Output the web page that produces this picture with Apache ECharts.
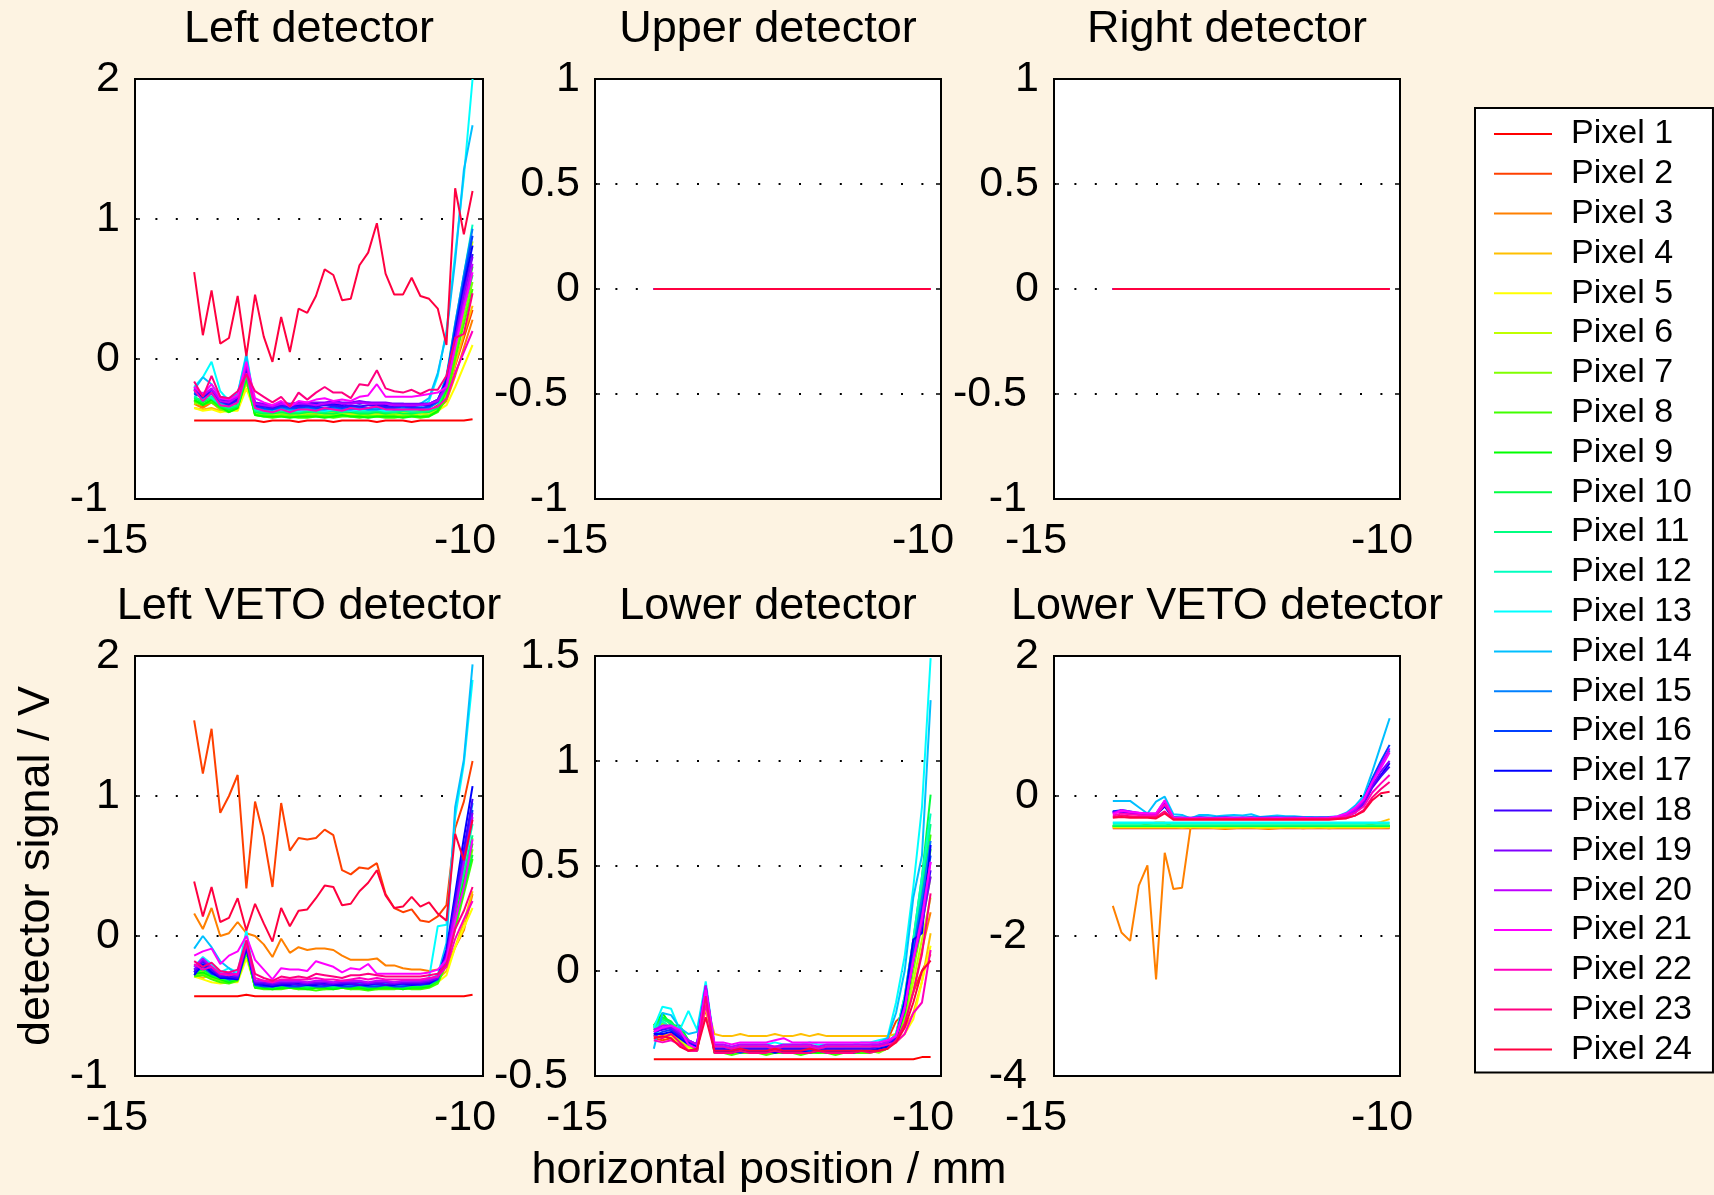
<!DOCTYPE html>
<html>
<head>
<meta charset="utf-8">
<title>Detector signals</title>
<script src="https://cdn.jsdelivr.net/npm/echarts@6/dist/echarts.min.js"></script>
<style>
html, body { margin: 0; padding: 0; background: #fdf3e2; }
#container-main { width: 1714px; height: 1195px; }
</style>
</head>
<body>
<div id="container-main"></div>
<script>
// horizontal positions (mm), same for every panel
var xPos = [-14.15,-14.025,-13.9,-13.775,-13.65,-13.525,-13.4,-13.275,-13.15,-13.025,-12.9,-12.775,-12.65,-12.525,-12.4,-12.275,-12.15,-12.025,-11.9,-11.775,-11.65,-11.525,-11.4,-11.275,-11.15,-11.025,-10.9,-10.775,-10.65,-10.525,-10.4,-10.275,-10.15];

var pixelNames = ['Pixel 1','Pixel 2','Pixel 3','Pixel 4','Pixel 5','Pixel 6','Pixel 7','Pixel 8','Pixel 9','Pixel 10','Pixel 11','Pixel 12',
  'Pixel 13','Pixel 14','Pixel 15','Pixel 16','Pixel 17','Pixel 18','Pixel 19','Pixel 20','Pixel 21','Pixel 22','Pixel 23','Pixel 24'];

var panelTitles = ['Left detector','Upper detector','Right detector','Left VETO detector','Lower detector','Lower VETO detector'];

// upper + right detector: every pixel reads 0
var flatZero = [0,0,0,0,0,0, 0, 0,0,0,0,0,0,0, 0,0,0,0,0,0,0, 0,0,0,0,0,0,0, 0,0,0,0,0];

var leftDet = [
  [-0.44,-0.44,-0.44,-0.44,-0.44,-0.44, -0.44, -0.44,-0.45,-0.44,-0.44,-0.44,-0.45,-0.44, -0.44,-0.44,-0.45,-0.44,-0.44,-0.44,-0.44, -0.45,-0.44,-0.44,-0.44,-0.45,-0.44,-0.44, -0.44,-0.44,-0.44,-0.44,-0.43],
  [-0.30,-0.34,-0.29,-0.35,-0.33,-0.32, -0.16, -0.36,-0.37,-0.38,-0.37,-0.36,-0.37,-0.38, -0.37,-0.36,-0.37,-0.37,-0.36,-0.37,-0.38, -0.37,-0.37,-0.36,-0.37,-0.38,-0.37,-0.37, -0.33,-0.27,-0.05,0.15,0.35],
  [-0.32,-0.35,-0.31,-0.36,-0.35,-0.34, -0.12, -0.38,-0.38,-0.39,-0.38,-0.38,-0.37,-0.38, -0.39,-0.38,-0.38,-0.37,-0.38,-0.39,-0.38, -0.38,-0.38,-0.37,-0.38,-0.38,-0.39,-0.38, -0.36,-0.30,-0.12,0.08,0.28],
  [-0.35,-0.36,-0.35,-0.37,-0.37,-0.36, -0.17, -0.38,-0.39,-0.39,-0.38,-0.39,-0.39,-0.38, -0.38,-0.39,-0.39,-0.38,-0.39,-0.38,-0.39, -0.39,-0.38,-0.38,-0.39,-0.39,-0.38,-0.38, -0.35,-0.26,-0.04,0.18,0.38],
  [-0.35,-0.37,-0.36,-0.38,-0.37,-0.37, -0.21, -0.38,-0.38,-0.39,-0.38,-0.38,-0.39,-0.38, -0.38,-0.38,-0.39,-0.38,-0.38,-0.38,-0.39, -0.38,-0.38,-0.39,-0.38,-0.38,-0.38,-0.38, -0.37,-0.33,-0.20,-0.05,0.10],
  [-0.32,-0.30,-0.31,-0.35,-0.37,-0.34, -0.14, -0.39,-0.40,-0.40,-0.39,-0.40,-0.40,-0.39, -0.40,-0.40,-0.40,-0.39,-0.40,-0.40,-0.39, -0.40,-0.40,-0.39,-0.40,-0.40,-0.39,-0.40, -0.35,-0.18,0.18,0.52,0.84],
  [-0.31,-0.33,-0.30,-0.36,-0.38,-0.35, -0.15, -0.40,-0.40,-0.41,-0.40,-0.40,-0.41,-0.40, -0.40,-0.41,-0.40,-0.40,-0.41,-0.40,-0.40, -0.41,-0.40,-0.40,-0.41,-0.40,-0.41,-0.40, -0.37,-0.25,0.03,0.30,0.55],
  [-0.30,-0.32,-0.31,-0.35,-0.37,-0.34, -0.14, -0.40,-0.41,-0.42,-0.41,-0.41,-0.42,-0.42, -0.41,-0.41,-0.42,-0.41,-0.41,-0.42,-0.41, -0.41,-0.42,-0.42,-0.41,-0.41,-0.42,-0.41, -0.38,-0.28,0.00,0.25,0.50],
  [-0.29,-0.33,-0.29,-0.34,-0.38,-0.35, -0.13, -0.40,-0.41,-0.41,-0.41,-0.42,-0.41,-0.41, -0.41,-0.42,-0.41,-0.40,-0.41,-0.41,-0.42, -0.41,-0.41,-0.41,-0.42,-0.41,-0.41,-0.41, -0.37,-0.22,0.10,0.40,0.66],
  [-0.28,-0.31,-0.28,-0.34,-0.36,-0.34, -0.12, -0.38,-0.39,-0.39,-0.38,-0.39,-0.39,-0.38, -0.38,-0.39,-0.39,-0.38,-0.38,-0.39,-0.39, -0.38,-0.39,-0.38,-0.39,-0.39,-0.38,-0.38, -0.35,-0.20,0.10,0.36,0.60],
  [-0.27,-0.30,-0.27,-0.33,-0.35,-0.33, -0.10, -0.37,-0.38,-0.38,-0.37,-0.38,-0.38,-0.37, -0.38,-0.38,-0.37,-0.38,-0.37,-0.38,-0.38, -0.37,-0.38,-0.38,-0.37,-0.38,-0.38,-0.37, -0.34,-0.18,0.15,0.45,0.75],
  [-0.27,-0.24,-0.28,-0.32,-0.34,-0.31, -0.08, -0.36,-0.37,-0.37,-0.36,-0.37,-0.37,-0.36, -0.37,-0.37,-0.36,-0.37,-0.36,-0.37,-0.37, -0.36,-0.37,-0.37,-0.36,-0.37,-0.36,-0.35, -0.30,-0.12,0.25,0.60,0.96],
  [-0.20,-0.13,-0.02,-0.23,-0.30,-0.25, 0.04, -0.34,-0.36,-0.37,-0.36,-0.36,-0.37,-0.36, -0.36,-0.37,-0.36,-0.36,-0.37,-0.36,-0.36, -0.36,-0.37,-0.36,-0.36,-0.35,-0.34,-0.30, -0.12,0.20,0.75,1.30,2.00],
  [-0.22,-0.13,-0.18,-0.27,-0.28,-0.25, 0.02, -0.35,-0.36,-0.36,-0.35,-0.36,-0.35,-0.35, -0.36,-0.35,-0.35,-0.36,-0.35,-0.35,-0.36, -0.35,-0.35,-0.36,-0.35,-0.34,-0.32,-0.28, -0.10,0.18,0.70,1.35,1.67],
  [-0.24,-0.28,-0.25,-0.31,-0.33,-0.30, -0.06, -0.35,-0.36,-0.36,-0.35,-0.36,-0.36,-0.35, -0.36,-0.36,-0.35,-0.36,-0.36,-0.35,-0.36, -0.36,-0.35,-0.36,-0.36,-0.35,-0.36,-0.35, -0.31,-0.14,0.25,0.60,0.93],
  [-0.25,-0.27,-0.24,-0.30,-0.33,-0.29, -0.07, -0.34,-0.35,-0.36,-0.34,-0.35,-0.35,-0.34, -0.35,-0.35,-0.34,-0.35,-0.34,-0.34,-0.35, -0.34,-0.35,-0.35,-0.34,-0.35,-0.35,-0.34, -0.30,-0.14,0.22,0.56,0.88],
  [-0.22,-0.27,-0.22,-0.29,-0.31,-0.28, -0.08, -0.32,-0.33,-0.34,-0.32,-0.33,-0.33,-0.32, -0.32,-0.33,-0.32,-0.33,-0.31,-0.32,-0.31, -0.32,-0.33,-0.32,-0.32,-0.33,-0.32,-0.32, -0.29,-0.16,0.18,0.52,0.81],
  [-0.23,-0.26,-0.24,-0.30,-0.32,-0.29, -0.06, -0.33,-0.34,-0.35,-0.33,-0.34,-0.34,-0.33, -0.34,-0.33,-0.33,-0.34,-0.33,-0.34,-0.33, -0.33,-0.34,-0.34,-0.33,-0.34,-0.33,-0.33, -0.30,-0.18,0.15,0.48,0.75],
  [-0.21,-0.25,-0.22,-0.28,-0.30,-0.27, -0.05, -0.31,-0.32,-0.33,-0.31,-0.32,-0.31,-0.31, -0.31,-0.31,-0.30,-0.31,-0.31,-0.30,-0.31, -0.31,-0.31,-0.32,-0.32,-0.32,-0.32,-0.32, -0.29,-0.18,0.14,0.46,0.73],
  [-0.20,-0.26,-0.21,-0.30,-0.31,-0.27, -0.04, -0.32,-0.33,-0.34,-0.32,-0.33,-0.32,-0.32, -0.33,-0.32,-0.31,-0.32,-0.32,-0.31,-0.32, -0.32,-0.32,-0.33,-0.33,-0.33,-0.33,-0.32, -0.30,-0.20,0.10,0.40,0.68],
  [-0.20,-0.25,-0.18,-0.28,-0.29,-0.26, -0.02, -0.28,-0.31,-0.33,-0.30,-0.34,-0.30,-0.31, -0.29,-0.28,-0.30,-0.29,-0.30,-0.27,-0.26, -0.18,-0.27,-0.27,-0.27,-0.27,-0.26,-0.25, -0.24,-0.20,0.08,0.36,0.62],
  [-0.22,-0.30,-0.24,-0.33,-0.34,-0.31, -0.10, -0.35,-0.37,-0.38,-0.36,-0.38,-0.36,-0.36, -0.37,-0.35,-0.36,-0.37,-0.35,-0.36,-0.35, -0.34,-0.36,-0.36,-0.36,-0.36,-0.36,-0.36, -0.34,-0.28,-0.10,0.05,0.20],
  [-0.16,-0.27,-0.12,-0.27,-0.28,-0.23, -0.11, -0.23,-0.27,-0.31,-0.27,-0.34,-0.24,-0.29, -0.24,-0.20,-0.24,-0.24,-0.28,-0.18,-0.19, -0.08,-0.21,-0.23,-0.24,-0.22,-0.25,-0.22, -0.22,-0.12,0.15,0.18,0.47],
  [0.62,0.17,0.49,0.11,0.15,0.45, 0.02, 0.46,0.16,-0.02,0.30,0.05,0.36,0.33, 0.45,0.64,0.60,0.42,0.43,0.67,0.76, 0.97,0.61,0.46,0.46,0.58,0.45,0.43, 0.36,0.10,1.22,0.89,1.20]
];

var vetoLeft = [
  [-0.43,-0.43,-0.43,-0.43,-0.43,-0.43, -0.42, -0.43,-0.43,-0.43,-0.43,-0.43,-0.43,-0.43, -0.43,-0.43,-0.43,-0.43,-0.43,-0.43,-0.43, -0.43,-0.43,-0.43,-0.43,-0.43,-0.43,-0.43, -0.43,-0.43,-0.43,-0.43,-0.42],
  [1.54,1.16,1.48,0.88,1.00,1.15, 0.34, 0.96,0.71,0.35,0.95,0.61,0.70,0.69, 0.70,0.76,0.72,0.47,0.44,0.49,0.48, 0.52,0.30,0.20,0.17,0.19,0.11,0.10, 0.14,0.22,0.77,0.96,1.25],
  [0.16,0.05,0.20,0.00,0.02,0.10, 0.02, 0.00,-0.06,-0.15,-0.02,-0.12,-0.08,-0.10, -0.09,-0.09,-0.10,-0.14,-0.17,-0.17,-0.17, -0.16,-0.21,-0.21,-0.23,-0.24,-0.24,-0.25, -0.24,-0.22,-0.08,0.04,0.30],
  [-0.28,-0.30,-0.27,-0.31,-0.31,-0.30, -0.09, -0.33,-0.34,-0.35,-0.34,-0.33,-0.34,-0.35, -0.34,-0.33,-0.34,-0.34,-0.33,-0.34,-0.34, -0.33,-0.34,-0.33,-0.34,-0.34,-0.33,-0.33, -0.31,-0.25,-0.08,0.10,0.32],
  [-0.29,-0.31,-0.33,-0.34,-0.33,-0.33, -0.16, -0.35,-0.35,-0.36,-0.35,-0.35,-0.35,-0.36, -0.35,-0.35,-0.35,-0.35,-0.36,-0.35,-0.35, -0.35,-0.36,-0.35,-0.35,-0.35,-0.35,-0.34, -0.33,-0.28,-0.08,0.06,0.20],
  [-0.27,-0.25,-0.29,-0.31,-0.32,-0.31, -0.10, -0.36,-0.36,-0.37,-0.36,-0.36,-0.37,-0.36, -0.36,-0.37,-0.36,-0.36,-0.37,-0.36,-0.37, -0.36,-0.36,-0.36,-0.37,-0.36,-0.36,-0.35, -0.30,-0.15,0.15,0.40,0.70],
  [-0.28,-0.27,-0.30,-0.32,-0.33,-0.31, -0.11, -0.37,-0.37,-0.38,-0.37,-0.37,-0.38,-0.37, -0.37,-0.38,-0.37,-0.37,-0.38,-0.37,-0.37, -0.38,-0.37,-0.37,-0.38,-0.37,-0.37,-0.36, -0.33,-0.18,0.10,0.35,0.62],
  [-0.29,-0.28,-0.31,-0.33,-0.34,-0.32, -0.12, -0.37,-0.38,-0.38,-0.38,-0.37,-0.38,-0.38, -0.39,-0.38,-0.38,-0.37,-0.38,-0.38,-0.39, -0.38,-0.38,-0.38,-0.37,-0.38,-0.38,-0.37, -0.34,-0.20,0.05,0.30,0.55],
  [-0.27,-0.26,-0.29,-0.31,-0.33,-0.31, -0.10, -0.37,-0.37,-0.38,-0.37,-0.37,-0.37,-0.38, -0.37,-0.37,-0.38,-0.37,-0.37,-0.37,-0.38, -0.37,-0.37,-0.37,-0.38,-0.37,-0.37,-0.36, -0.32,-0.15,0.12,0.40,0.66],
  [-0.26,-0.24,-0.28,-0.30,-0.32,-0.30, -0.09, -0.36,-0.36,-0.37,-0.36,-0.36,-0.36,-0.37, -0.36,-0.36,-0.37,-0.36,-0.36,-0.36,-0.37, -0.36,-0.36,-0.36,-0.37,-0.36,-0.36,-0.35, -0.32,-0.17,0.10,0.34,0.58],
  [-0.25,-0.22,-0.27,-0.29,-0.31,-0.29, -0.07, -0.35,-0.35,-0.36,-0.35,-0.35,-0.35,-0.36, -0.35,-0.35,-0.36,-0.35,-0.35,-0.35,-0.36, -0.35,-0.35,-0.35,-0.36,-0.35,-0.35,-0.34, -0.30,-0.12,0.18,0.45,0.72],
  [-0.24,-0.20,-0.26,-0.28,-0.30,-0.28, -0.05, -0.34,-0.35,-0.35,-0.34,-0.35,-0.35,-0.34, -0.35,-0.35,-0.34,-0.35,-0.35,-0.34,-0.35, -0.35,-0.34,-0.35,-0.35,-0.34,-0.34,-0.33, -0.30,-0.10,0.22,0.50,0.80],
  [-0.22,-0.15,-0.20,-0.26,-0.23,-0.26, 0.04, -0.33,-0.34,-0.34,-0.33,-0.34,-0.34,-0.33, -0.34,-0.34,-0.33,-0.34,-0.34,-0.33,-0.34, -0.34,-0.33,-0.34,-0.34,-0.33,-0.32,-0.30, 0.07,0.08,0.85,1.23,1.83],
  [-0.09,0.00,-0.08,-0.18,-0.23,-0.28, -0.05, -0.33,-0.34,-0.35,-0.34,-0.34,-0.33,-0.34, -0.35,-0.34,-0.34,-0.33,-0.34,-0.35,-0.34, -0.34,-0.34,-0.33,-0.34,-0.34,-0.33,-0.31, -0.28,-0.05,0.92,1.26,1.94],
  [-0.24,-0.21,-0.25,-0.28,-0.30,-0.29, -0.07, -0.34,-0.34,-0.35,-0.34,-0.34,-0.35,-0.34, -0.34,-0.35,-0.34,-0.34,-0.35,-0.34,-0.34, -0.35,-0.34,-0.34,-0.35,-0.34,-0.34,-0.33, -0.30,-0.12,0.25,0.60,0.95],
  [-0.26,-0.22,-0.27,-0.29,-0.31,-0.30, -0.08, -0.35,-0.36,-0.36,-0.35,-0.36,-0.36,-0.35, -0.36,-0.36,-0.35,-0.36,-0.36,-0.35,-0.36, -0.36,-0.35,-0.36,-0.36,-0.35,-0.35,-0.34, -0.31,-0.14,0.22,0.55,0.90],
  [-0.28,-0.20,-0.26,-0.30,-0.30,-0.31, -0.09, -0.34,-0.35,-0.36,-0.35,-0.35,-0.34,-0.35, -0.35,-0.34,-0.35,-0.35,-0.34,-0.35,-0.35, -0.34,-0.35,-0.35,-0.34,-0.35,-0.34,-0.34, -0.30,-0.10,0.30,0.70,1.07],
  [-0.26,-0.18,-0.24,-0.29,-0.29,-0.30, -0.07, -0.34,-0.34,-0.35,-0.34,-0.34,-0.35,-0.34, -0.34,-0.35,-0.34,-0.34,-0.34,-0.35,-0.34, -0.34,-0.35,-0.34,-0.34,-0.34,-0.34,-0.33, -0.30,-0.12,0.25,0.62,0.98],
  [-0.24,-0.17,-0.23,-0.28,-0.27,-0.29, -0.06, -0.33,-0.33,-0.34,-0.33,-0.33,-0.33,-0.34, -0.33,-0.33,-0.34,-0.33,-0.33,-0.33,-0.34, -0.33,-0.33,-0.34,-0.33,-0.33,-0.33,-0.32, -0.30,-0.15,0.20,0.55,0.88],
  [-0.22,-0.16,-0.22,-0.27,-0.26,-0.28, -0.04, -0.32,-0.32,-0.33,-0.32,-0.32,-0.32,-0.33, -0.32,-0.32,-0.33,-0.32,-0.32,-0.32,-0.33, -0.32,-0.32,-0.33,-0.32,-0.32,-0.32,-0.31, -0.29,-0.16,0.18,0.52,0.85],
  [-0.14,-0.11,-0.09,-0.20,-0.14,-0.11, 0.00, -0.17,-0.24,-0.31,-0.23,-0.24,-0.24,-0.25, -0.18,-0.20,-0.22,-0.26,-0.23,-0.24,-0.20, -0.27,-0.27,-0.27,-0.27,-0.27,-0.27,-0.26, -0.24,-0.17,0.11,0.35,0.69],
  [-0.20,-0.24,-0.22,-0.27,-0.28,-0.27, -0.05, -0.30,-0.32,-0.33,-0.31,-0.31,-0.31,-0.31, -0.30,-0.31,-0.31,-0.32,-0.31,-0.30,-0.31, -0.30,-0.31,-0.31,-0.31,-0.31,-0.31,-0.30, -0.29,-0.22,-0.02,0.12,0.25],
  [-0.18,-0.22,-0.19,-0.25,-0.26,-0.24, -0.03, -0.27,-0.30,-0.32,-0.29,-0.30,-0.29,-0.30, -0.27,-0.28,-0.29,-0.30,-0.28,-0.28,-0.27, -0.28,-0.29,-0.29,-0.29,-0.29,-0.29,-0.28, -0.27,-0.20,0.05,0.18,0.35],
  [0.39,0.14,0.35,0.10,0.13,0.27, 0.04, 0.23,0.09,-0.04,0.20,0.07,0.18,0.19, 0.27,0.36,0.35,0.22,0.23,0.32,0.38, 0.47,0.29,0.20,0.21,0.28,0.21,0.24, 0.16,0.11,0.73,0.54,0.83]
];

var lowerDet = [
  [-0.42,-0.42,-0.42,-0.42,-0.42,-0.42, -0.42, -0.42,-0.42,-0.42,-0.42,-0.42,-0.42,-0.42, -0.42,-0.42,-0.42,-0.42,-0.42,-0.42,-0.42, -0.42,-0.42,-0.42,-0.42,-0.42,-0.42,-0.42, -0.42,-0.42,-0.42,-0.41,-0.41],
  [-0.32,-0.33,-0.32,-0.35,-0.37,-0.37, -0.18, -0.37,-0.37,-0.38,-0.37,-0.37,-0.37,-0.38, -0.37,-0.37,-0.38,-0.37,-0.37,-0.36,-0.37, -0.37,-0.37,-0.36,-0.37,-0.37,-0.36,-0.33, -0.24,-0.20,-0.10,0.00,0.08],
  [-0.31,-0.30,-0.31,-0.34,-0.36,-0.36, -0.15, -0.36,-0.36,-0.37,-0.36,-0.36,-0.37,-0.36, -0.36,-0.36,-0.37,-0.36,-0.36,-0.36,-0.37, -0.36,-0.36,-0.37,-0.36,-0.36,-0.36,-0.34, -0.33,-0.25,-0.10,0.10,0.28],
  [-0.30,-0.31,-0.30,-0.33,-0.35,-0.34, -0.14, -0.30,-0.31,-0.31,-0.30,-0.31,-0.31,-0.31, -0.30,-0.31,-0.31,-0.30,-0.31,-0.30,-0.31, -0.31,-0.31,-0.31,-0.31,-0.31,-0.31,-0.31, -0.30,-0.27,-0.20,-0.05,0.18],
  [-0.31,-0.32,-0.31,-0.35,-0.37,-0.36, -0.17, -0.37,-0.37,-0.38,-0.37,-0.37,-0.38,-0.37, -0.37,-0.37,-0.38,-0.37,-0.37,-0.38,-0.37, -0.37,-0.38,-0.37,-0.37,-0.37,-0.37,-0.36, -0.34,-0.30,-0.23,-0.05,0.12],
  [-0.29,-0.24,-0.27,-0.33,-0.36,-0.37, -0.12, -0.38,-0.38,-0.39,-0.38,-0.38,-0.39,-0.38, -0.38,-0.38,-0.39,-0.38,-0.38,-0.39,-0.38, -0.38,-0.39,-0.38,-0.38,-0.38,-0.38,-0.37, -0.33,-0.24,-0.05,0.15,0.35],
  [-0.28,-0.25,-0.28,-0.31,-0.35,-0.38, -0.12, -0.39,-0.39,-0.39,-0.38,-0.39,-0.39,-0.39, -0.39,-0.38,-0.39,-0.39,-0.39,-0.39,-0.38, -0.39,-0.39,-0.39,-0.39,-0.38,-0.39,-0.37, -0.33,-0.22,0.00,0.22,0.45],
  [-0.27,-0.22,-0.25,-0.30,-0.34,-0.38, -0.11, -0.39,-0.39,-0.40,-0.39,-0.39,-0.39,-0.40, -0.39,-0.39,-0.39,-0.40,-0.39,-0.39,-0.39, -0.40,-0.39,-0.39,-0.39,-0.39,-0.38,-0.37, -0.32,-0.18,0.08,0.35,0.65],
  [-0.26,-0.20,-0.26,-0.26,-0.33,-0.38, -0.10, -0.38,-0.38,-0.39,-0.38,-0.38,-0.38,-0.38, -0.39,-0.38,-0.38,-0.38,-0.38,-0.39,-0.38, -0.38,-0.38,-0.38,-0.38,-0.38,-0.38,-0.36, -0.32,-0.20,0.05,0.30,0.58],
  [-0.26,-0.22,-0.24,-0.29,-0.34,-0.37, -0.09, -0.37,-0.37,-0.38,-0.37,-0.37,-0.37,-0.38, -0.37,-0.37,-0.37,-0.38,-0.37,-0.37,-0.37, -0.38,-0.37,-0.37,-0.37,-0.37,-0.36,-0.35, -0.30,-0.12,0.15,0.45,0.84],
  [-0.27,-0.23,-0.25,-0.28,-0.33,-0.36, -0.09, -0.37,-0.37,-0.37,-0.38,-0.37,-0.37,-0.37, -0.37,-0.38,-0.37,-0.37,-0.37,-0.37,-0.38, -0.37,-0.37,-0.37,-0.37,-0.37,-0.36,-0.35, -0.31,-0.15,0.12,0.40,0.70],
  [-0.28,-0.24,-0.27,-0.30,-0.33,-0.35, -0.08, -0.36,-0.36,-0.37,-0.36,-0.36,-0.36,-0.37, -0.36,-0.36,-0.36,-0.36,-0.37,-0.36,-0.36, -0.36,-0.36,-0.37,-0.36,-0.36,-0.35,-0.34, -0.30,-0.12,0.15,0.45,0.75],
  [-0.27,-0.17,-0.18,-0.28,-0.19,-0.28, -0.05, -0.35,-0.35,-0.36,-0.35,-0.35,-0.35,-0.35, -0.34,-0.35,-0.35,-0.35,-0.34,-0.35,-0.35, -0.35,-0.35,-0.35,-0.34,-0.34,-0.33,-0.32, -0.15,0.07,0.40,0.78,1.49],
  [-0.37,-0.20,-0.21,-0.27,-0.30,-0.29, -0.07, -0.36,-0.36,-0.37,-0.36,-0.36,-0.36,-0.36, -0.37,-0.36,-0.36,-0.36,-0.36,-0.37,-0.36, -0.36,-0.36,-0.36,-0.36,-0.35,-0.34,-0.32, -0.20,0.00,0.35,0.55,1.29],
  [-0.30,-0.27,-0.26,-0.30,-0.33,-0.35, -0.08, -0.37,-0.37,-0.38,-0.37,-0.37,-0.37,-0.37, -0.38,-0.37,-0.37,-0.37,-0.37,-0.38,-0.37, -0.37,-0.37,-0.37,-0.37,-0.37,-0.36,-0.35, -0.31,-0.15,0.10,0.35,0.62],
  [-0.31,-0.29,-0.28,-0.31,-0.34,-0.36, -0.09, -0.38,-0.38,-0.38,-0.39,-0.38,-0.38,-0.38, -0.38,-0.39,-0.38,-0.38,-0.38,-0.38,-0.39, -0.38,-0.38,-0.38,-0.38,-0.38,-0.37,-0.36, -0.32,-0.17,0.08,0.30,0.55],
  [-0.30,-0.30,-0.29,-0.32,-0.35,-0.36, -0.10, -0.38,-0.38,-0.39,-0.38,-0.38,-0.38,-0.38, -0.39,-0.38,-0.38,-0.38,-0.39,-0.38,-0.38, -0.38,-0.38,-0.39,-0.38,-0.38,-0.37,-0.36, -0.32,-0.14,0.15,0.18,0.60],
  [-0.29,-0.28,-0.27,-0.31,-0.34,-0.35, -0.08, -0.37,-0.37,-0.38,-0.37,-0.37,-0.37,-0.37, -0.38,-0.37,-0.37,-0.37,-0.37,-0.38,-0.37, -0.37,-0.37,-0.37,-0.37,-0.37,-0.36,-0.35, -0.32,-0.18,0.05,0.25,0.48],
  [-0.28,-0.27,-0.27,-0.30,-0.33,-0.35, -0.07, -0.36,-0.36,-0.37,-0.36,-0.36,-0.36,-0.36, -0.37,-0.36,-0.36,-0.36,-0.36,-0.37,-0.36, -0.36,-0.36,-0.36,-0.36,-0.36,-0.35,-0.34, -0.31,-0.18,0.05,0.22,0.45],
  [-0.28,-0.26,-0.26,-0.29,-0.33,-0.35, -0.07, -0.35,-0.35,-0.36,-0.35,-0.35,-0.35,-0.35, -0.36,-0.35,-0.35,-0.35,-0.35,-0.36,-0.35, -0.35,-0.35,-0.35,-0.35,-0.35,-0.35,-0.34, -0.31,-0.17,0.06,0.26,0.52],
  [-0.29,-0.27,-0.26,-0.28,-0.35,-0.37, -0.09, -0.34,-0.34,-0.35,-0.34,-0.34,-0.34,-0.34, -0.33,-0.32,-0.34,-0.34,-0.34,-0.34,-0.34, -0.34,-0.34,-0.34,-0.34,-0.34,-0.34,-0.33, -0.31,-0.18,0.05,0.25,0.52],
  [-0.33,-0.34,-0.33,-0.35,-0.38,-0.38, -0.16, -0.36,-0.36,-0.37,-0.36,-0.36,-0.36,-0.36, -0.37,-0.36,-0.36,-0.36,-0.36,-0.37,-0.36, -0.36,-0.36,-0.36,-0.36,-0.36,-0.36,-0.35, -0.34,-0.30,-0.20,-0.15,0.10],
  [-0.31,-0.32,-0.30,-0.34,-0.38,-0.38, -0.12, -0.39,-0.39,-0.39,-0.38,-0.39,-0.39,-0.39, -0.38,-0.39,-0.39,-0.39,-0.39,-0.38,-0.39, -0.39,-0.39,-0.39,-0.38,-0.39,-0.38,-0.37, -0.33,-0.25,-0.10,0.08,0.37],
  [-0.32,-0.31,-0.32,-0.36,-0.38,-0.37, -0.22, -0.38,-0.38,-0.38,-0.37,-0.38,-0.38,-0.38, -0.37,-0.38,-0.38,-0.38,-0.37,-0.38,-0.38, -0.38,-0.38,-0.38,-0.38,-0.38,-0.38,-0.37, -0.34,-0.27,-0.15,0.00,0.05]
];

var vetoLower = [
  [-0.46,-0.46,-0.46,-0.46,-0.46,-0.46, -0.46, -0.46,-0.46,-0.46,-0.46,-0.46,-0.46,-0.46, -0.46,-0.46,-0.46,-0.46,-0.46,-0.46,-0.46, -0.46,-0.46,-0.46,-0.46,-0.46,-0.46,-0.46, -0.46,-0.46,-0.46,-0.46,-0.46],
  [-0.45,-0.45,-0.45,-0.45,-0.45,-0.45, -0.45, -0.45,-0.45,-0.45,-0.45,-0.45,-0.45,-0.45, -0.45,-0.45,-0.45,-0.45,-0.45,-0.45,-0.45, -0.45,-0.45,-0.45,-0.45,-0.45,-0.45,-0.45, -0.45,-0.45,-0.45,-0.45,-0.45],
  [-1.57,-1.95,-2.07,-1.28,-0.99,-2.62, -0.81, -1.33,-1.31,-0.44,-0.45,-0.45,-0.46,-0.47, -0.46,-0.45,-0.45,-0.46,-0.47,-0.46,-0.45, -0.45,-0.46,-0.45,-0.45,-0.46,-0.45,-0.45, -0.45,-0.45,-0.45,-0.45,-0.44],
  [-0.44,-0.44,-0.43,-0.44,-0.40,-0.38, -0.38, -0.44,-0.45,-0.44,-0.44,-0.44,-0.45,-0.44, -0.44,-0.44,-0.44,-0.45,-0.44,-0.44,-0.44, -0.44,-0.44,-0.45,-0.44,-0.44,-0.44,-0.44, -0.44,-0.43,-0.40,-0.37,-0.33],
  [-0.45,-0.45,-0.45,-0.45,-0.45,-0.45, -0.45, -0.45,-0.45,-0.45,-0.45,-0.45,-0.45,-0.45, -0.45,-0.45,-0.45,-0.45,-0.45,-0.45,-0.45, -0.45,-0.45,-0.45,-0.45,-0.45,-0.45,-0.45, -0.45,-0.45,-0.45,-0.45,-0.45],
  [-0.44,-0.44,-0.44,-0.44,-0.44,-0.44, -0.44, -0.44,-0.44,-0.44,-0.44,-0.44,-0.44,-0.44, -0.44,-0.44,-0.44,-0.44,-0.44,-0.44,-0.44, -0.44,-0.44,-0.44,-0.44,-0.44,-0.44,-0.44, -0.44,-0.44,-0.44,-0.44,-0.44],
  [-0.43,-0.43,-0.43,-0.43,-0.43,-0.43, -0.43, -0.43,-0.43,-0.43,-0.43,-0.43,-0.43,-0.43, -0.43,-0.43,-0.43,-0.43,-0.43,-0.43,-0.43, -0.43,-0.43,-0.43,-0.43,-0.43,-0.43,-0.43, -0.43,-0.43,-0.43,-0.43,-0.43],
  [-0.43,-0.43,-0.43,-0.43,-0.43,-0.43, -0.43, -0.43,-0.43,-0.43,-0.43,-0.43,-0.43,-0.43, -0.43,-0.43,-0.43,-0.43,-0.43,-0.43,-0.43, -0.43,-0.43,-0.43,-0.43,-0.43,-0.43,-0.43, -0.43,-0.43,-0.43,-0.43,-0.43],
  [-0.43,-0.43,-0.43,-0.43,-0.43,-0.43, -0.43, -0.43,-0.43,-0.43,-0.43,-0.43,-0.43,-0.43, -0.43,-0.43,-0.43,-0.43,-0.43,-0.43,-0.43, -0.43,-0.43,-0.43,-0.43,-0.43,-0.43,-0.43, -0.43,-0.43,-0.43,-0.43,-0.43],
  [-0.42,-0.42,-0.42,-0.42,-0.42,-0.42, -0.42, -0.42,-0.42,-0.42,-0.42,-0.42,-0.42,-0.42, -0.42,-0.42,-0.42,-0.42,-0.42,-0.42,-0.42, -0.42,-0.42,-0.42,-0.42,-0.42,-0.42,-0.42, -0.42,-0.42,-0.42,-0.42,-0.42],
  [-0.42,-0.42,-0.42,-0.42,-0.42,-0.42, -0.42, -0.42,-0.42,-0.42,-0.42,-0.42,-0.42,-0.42, -0.42,-0.42,-0.42,-0.42,-0.42,-0.42,-0.42, -0.42,-0.42,-0.42,-0.42,-0.42,-0.42,-0.42, -0.42,-0.42,-0.42,-0.42,-0.42],
  [-0.39,-0.39,-0.39,-0.39,-0.39,-0.39, -0.39, -0.39,-0.39,-0.39,-0.39,-0.39,-0.39,-0.39, -0.39,-0.39,-0.39,-0.39,-0.39,-0.39,-0.39, -0.39,-0.39,-0.39,-0.39,-0.39,-0.39,-0.39, -0.39,-0.39,-0.39,-0.39,-0.39],
  [-0.38,-0.38,-0.38,-0.38,-0.38,-0.38, -0.38, -0.38,-0.38,-0.38,-0.38,-0.38,-0.38,-0.38, -0.38,-0.38,-0.38,-0.38,-0.38,-0.38,-0.38, -0.38,-0.38,-0.38,-0.38,-0.38,-0.38,-0.38, -0.38,-0.38,-0.38,-0.38,-0.38],
  [-0.07,-0.07,-0.07,-0.16,-0.25,-0.08, -0.01, -0.26,-0.27,-0.32,-0.27,-0.27,-0.29,-0.28, -0.27,-0.28,-0.26,-0.30,-0.29,-0.28,-0.29, -0.29,-0.30,-0.30,-0.30,-0.30,-0.29,-0.24, -0.14,0.00,0.35,0.73,1.11],
  [-0.22,-0.20,-0.22,-0.25,-0.28,-0.26, -0.12, -0.30,-0.31,-0.31,-0.30,-0.31,-0.31,-0.30, -0.31,-0.31,-0.30,-0.31,-0.31,-0.30,-0.31, -0.31,-0.31,-0.31,-0.31,-0.31,-0.30,-0.27, -0.22,-0.10,0.20,0.45,0.65],
  [-0.23,-0.21,-0.23,-0.25,-0.27,-0.26, -0.14, -0.31,-0.31,-0.32,-0.31,-0.31,-0.31,-0.31, -0.32,-0.31,-0.31,-0.31,-0.31,-0.32,-0.31, -0.31,-0.31,-0.31,-0.32,-0.31,-0.30,-0.27, -0.20,-0.05,0.25,0.50,0.73],
  [-0.22,-0.22,-0.24,-0.26,-0.27,-0.27, -0.15, -0.32,-0.32,-0.33,-0.32,-0.32,-0.32,-0.32, -0.33,-0.32,-0.32,-0.32,-0.32,-0.33,-0.32, -0.32,-0.32,-0.32,-0.33,-0.32,-0.31,-0.28, -0.22,-0.10,0.15,0.30,0.47],
  [-0.23,-0.22,-0.24,-0.26,-0.27,-0.27, -0.13, -0.32,-0.32,-0.32,-0.33,-0.32,-0.32,-0.32, -0.32,-0.33,-0.32,-0.32,-0.32,-0.32,-0.33, -0.32,-0.32,-0.32,-0.32,-0.32,-0.31,-0.29, -0.24,-0.12,0.12,0.28,0.42],
  [-0.24,-0.21,-0.23,-0.25,-0.26,-0.26, -0.10, -0.31,-0.31,-0.32,-0.31,-0.31,-0.32,-0.31, -0.31,-0.31,-0.32,-0.31,-0.31,-0.31,-0.32, -0.31,-0.31,-0.32,-0.31,-0.31,-0.30,-0.28, -0.22,-0.10,0.15,0.35,0.50],
  [-0.25,-0.20,-0.22,-0.24,-0.25,-0.25, -0.07, -0.31,-0.31,-0.31,-0.31,-0.32,-0.31,-0.31, -0.31,-0.31,-0.31,-0.32,-0.31,-0.31,-0.31, -0.31,-0.32,-0.31,-0.31,-0.31,-0.30,-0.27, -0.20,-0.06,0.20,0.45,0.68],
  [-0.26,-0.21,-0.23,-0.24,-0.25,-0.25, -0.06, -0.31,-0.32,-0.32,-0.31,-0.32,-0.32,-0.31, -0.32,-0.32,-0.31,-0.32,-0.32,-0.31,-0.32, -0.32,-0.31,-0.32,-0.32,-0.31,-0.29,-0.25, -0.17,-0.05,0.20,0.40,0.62],
  [-0.28,-0.25,-0.26,-0.27,-0.28,-0.28, -0.12, -0.32,-0.32,-0.33,-0.32,-0.32,-0.32,-0.32, -0.33,-0.32,-0.32,-0.32,-0.32,-0.33,-0.32, -0.32,-0.32,-0.32,-0.32,-0.32,-0.31,-0.29, -0.24,-0.15,0.05,0.18,0.30],
  [-0.30,-0.28,-0.29,-0.30,-0.30,-0.30, -0.22, -0.33,-0.33,-0.33,-0.33,-0.33,-0.33,-0.33, -0.33,-0.33,-0.33,-0.33,-0.33,-0.33,-0.33, -0.33,-0.33,-0.33,-0.33,-0.33,-0.32,-0.31, -0.28,-0.20,-0.02,0.10,0.20],
  [-0.31,-0.30,-0.31,-0.31,-0.31,-0.32, -0.25, -0.34,-0.34,-0.34,-0.34,-0.34,-0.34,-0.34, -0.34,-0.34,-0.34,-0.34,-0.34,-0.34,-0.34, -0.34,-0.34,-0.34,-0.34,-0.34,-0.33,-0.32, -0.28,-0.22,-0.06,0.04,0.06]
];

// hsv(24) colour map, one per pixel
var pixelColors = ['#ff0000','#ff4000','#ff8000','#ffbf00','#ffff00','#bfff00','#80ff00','#40ff00','#00ff00','#00ff40','#00ff80','#00ffbf',
  '#00ffff','#00bfff','#0080ff','#0040ff','#0000ff','#4000ff','#8000ff','#bf00ff','#ff00ff','#ff00bf','#ff0080','#ff0040'];

var FONT = "'Liberation Sans', Arial, Helvetica, sans-serif";

// [left, top, width, height] of every axes box
var boxes = [
  [135, 79, 348, 420], [595, 79, 346, 420], [1054, 79, 346, 420],
  [135, 656, 348, 420], [595, 656, 346, 420], [1054, 656, 346, 420]
];
var yRanges = [[-1, 2, 1], [-1, 1, 0.5], [-1, 1, 0.5], [-1, 2, 1], [-0.5, 1.5, 0.5], [-4, 2, 2]];
var panelRows = [leftDet, null, null, vetoLeft, lowerDet, vetoLower];

function tickText(v) {
  return v < 0 ? '{neg|' + v + '}' : String(v);
}

var grids = [], xAxes = [], yAxes = [], series = [], graphics = [];

for (var p = 0; p < 6; p++) {
  var b = boxes[p];
  grids.push({
    left: b[0], top: b[1], width: b[2], height: b[3],
    show: true, backgroundColor: '#ffffff', borderColor: '#000000', borderWidth: 2,
    containLabel: false, outerBoundsMode: 'none'
  });
  xAxes.push({
    type: 'value', gridIndex: p, min: -15, max: -10, interval: 5,
    axisLine: {show: false}, axisTick: {show: false}, splitLine: {show: false},
    axisLabel: {color: '#000', fontSize: 43, fontFamily: FONT, margin: 21, lineHeight: 43, padding: [0, 36, 0, 0]}
  });
  yAxes.push({
    type: 'value', gridIndex: p, position: 'left',
    min: yRanges[p][0], max: yRanges[p][1], interval: yRanges[p][2],
    axisLine: {show: false},
    axisTick: {show: true, inside: true, length: 5, lineStyle: {color: '#000', width: 1.5}},
    splitLine: {show: true, lineStyle: {color: '#000', width: 2, type: [2, 18.4]}},
    axisLabel: {
      color: '#000', fontSize: 43, fontFamily: FONT, margin: 15,
      formatter: tickText,
      rich: {neg: {color: '#000', fontSize: 43, fontFamily: FONT, padding: [0, 12, 0, 0]}}
    }
  });
  yAxes.push({
    type: 'value', gridIndex: p, position: 'right',
    min: yRanges[p][0], max: yRanges[p][1], interval: yRanges[p][2],
    axisLine: {show: false}, axisLabel: {show: false}, splitLine: {show: false},
    axisTick: {show: true, inside: true, length: 5, lineStyle: {color: '#000', width: 1.5}}
  });

  for (var k = 0; k < 24; k++) {
    var rows = panelRows[p];
    var vals = rows ? rows[k] : flatZero;
    series.push({
      name: pixelNames[k],
      type: 'line',
      xAxisIndex: p,
      yAxisIndex: p * 2,
      data: xPos.map(function (x, i) { return [x, vals[i]]; }),
      symbol: 'none',
      showSymbol: false,
      silent: true,
      lineStyle: {color: pixelColors[k], width: 2},
      itemStyle: {color: pixelColors[k]}
    });
  }

  graphics.push({
    type: 'text', silent: true,
    x: b[0] + b[2] / 2, y: b[1] - 49,
    style: {text: panelTitles[p], fill: '#000', font: '45px ' + FONT,
      align: 'center', verticalAlign: 'middle', textAlign: 'center', textVerticalAlign: 'middle'}
  });
}

graphics.push({
  type: 'text', silent: true, x: 769, y: 1171,
  style: {text: 'horizontal position / mm', fill: '#000', font: '45px ' + FONT,
    align: 'center', verticalAlign: 'middle', textAlign: 'center', textVerticalAlign: 'middle'}
});
graphics.push({
  type: 'text', silent: true, x: 37, y: 866, rotation: Math.PI / 2,
  style: {text: 'detector signal / V', fill: '#000', font: '45px ' + FONT,
    align: 'center', verticalAlign: 'middle', textAlign: 'center', textVerticalAlign: 'middle'}
});

var dom = document.getElementById('container-main');
var myChart = echarts.init(dom);
var option = {
  backgroundColor: '#fdf3e2',
  animation: false,
  grid: grids,
  xAxis: xAxes,
  yAxis: yAxes,
  legend: {
    orient: 'vertical',
    left: 1475, top: 108,
    data: pixelNames,
    icon: 'rect',
    selectedMode: false,
    backgroundColor: '#ffffff',
    borderColor: '#000000',
    borderWidth: 2,
    padding: [9, 21, 6, 19],
    itemGap: 5.8,
    itemWidth: 58,
    itemHeight: 2,
    textStyle: {color: '#000', fontSize: 34, fontFamily: FONT, lineHeight: 34, padding: [0, 0, 0, 14]}
  },
  graphic: graphics,
  series: series
};
myChart.setOption(option, true);
</script>
</body>
</html>
